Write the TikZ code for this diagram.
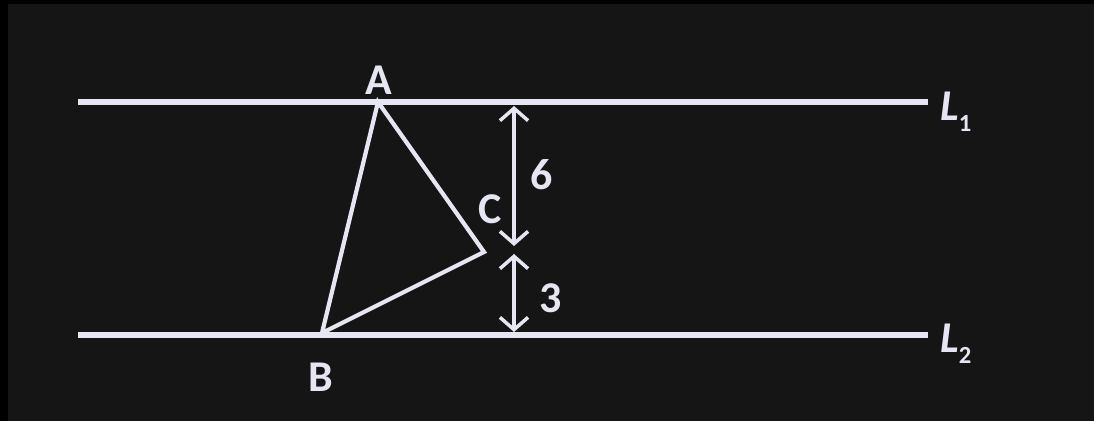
\documentclass[tikz,border=0pt]{standalone}
\usepackage{fontspec}
\setmainfont{Carlito}
\usetikzlibrary{arrows.meta}
\definecolor{bg}{HTML}{151515}
\definecolor{ink}{HTML}{E6E6F2}
\tikzset{
  px/.style={x=0.02cm,y=-0.02cm},
  parline/.style={draw=ink,line width=3.4pt},
  tri/.style={draw=ink,line width=2.4pt,line join=miter},
  dim/.style={draw=ink,line width=2.2pt,{Straight Barb[length=7pt,width=16pt,line width=2pt]}-{Straight Barb[length=7pt,width=16pt,line width=2pt]}},
  lbl/.style={text=ink,font=\bfseries\fontsize{25}{28}\selectfont,inner sep=0pt}
}
\newcommand{\subn}[1]{\raisebox{-6pt}{\fontsize{14}{14}\selectfont #1}}
\begin{document}
\begin{tikzpicture}[px]
\fill[black] (0,0) rectangle (1094,421);
\fill[bg] (8,4) rectangle (1094,421);
\useasboundingbox (0,0) rectangle (1094,421);
\coordinate (l1s) at (78,102);
\coordinate (l1e) at (928,102);
\coordinate (l2s) at (78,335);
\coordinate (l2e) at (928,335);
\draw[parline] (l1s) -- (l1e);
\draw[parline] (l2s) -- (l2e);
\coordinate (A) at (378,102);
\coordinate (B) at (322,333);
\coordinate (C) at (484,252);
\draw[tri] (A) -- (B) -- (C) -- cycle;
\coordinate (d1) at (514,106);
\coordinate (d2) at (514,246);
\coordinate (d3) at (514,254);
\coordinate (d4) at (514,332);
\draw[dim] (d1) -- (d2);
\draw[dim] (d3) -- (d4);
\node[lbl] (la) at (379,80) {A};
\node[lbl] (lb) at (321,377) {B};
\node[lbl] (lc) at (490,209) {C};
\node[lbl] (l6) at (542,175) {6};
\node[lbl] (l3) at (551,298) {3};
\node[lbl,anchor=base west] (ll1) at (940,121) {\textit{L}\subn{1}};
\node[lbl,anchor=base west] (ll2) at (940,353) {\textit{L}\subn{2}};
\end{tikzpicture}
\end{document}
